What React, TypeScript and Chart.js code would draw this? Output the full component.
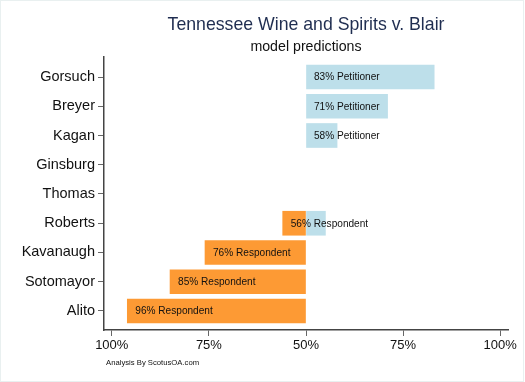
import React, { useEffect, useRef } from "react";
import { Chart, registerables } from "chart.js";

Chart.register(...registerables);

const justices = ["Gorsuch", "Breyer", "Kagan", "Ginsburg", "Thomas", "Roberts", "Kavanaugh", "Sotomayor", "Alito"];
const petitionerPct: (number | null)[] = [83, 71, 58, null, null, 55, null, null, null];
const respondentPct: (number | null)[] = [null, null, null, null, null, 56, 76, 85, 96];
const xTickValues = [-50, -25, 0, 25, 50];

const TITLE = "Tennessee Wine and Spirits v. Blair";
const SUBTITLE = "model predictions";
const NOTE = "Analysis By ScotusOA.com";
const FONT = "'Liberation Sans', Arial, Helvetica, sans-serif";

function rowLabel(i: number): string {
  const p = petitionerPct[i];
  const r = respondentPct[i];
  if (r != null && (p == null || r >= p)) return `${r}% Respondent`;
  if (p != null) return `${p}% Petitioner`;
  return "";
}

export default function App() {
  const ref = useRef<HTMLCanvasElement | null>(null);

  useEffect(() => {
    document.body.style.margin = "0";
    const canvas = ref.current;
    if (!canvas) return;

    const petData = petitionerPct
      .map((v, i) => (v == null ? null : { y: i, x: [0, v - 50] }))
      .filter(Boolean);
    const resData = respondentPct
      .map((v, i) => (v == null ? null : { y: i, x: [-(v - 50), 0] }))
      .filter(Boolean);

    const decor = {
      id: "decor",
      beforeDraw(chart: any) {
        const ctx = chart.ctx;
        ctx.save();
        ctx.fillStyle = "#ffffff";
        ctx.fillRect(0, 0, chart.width, chart.height);
        ctx.strokeStyle = "#e9f0f0";
        ctx.lineWidth = 1;
        ctx.strokeRect(0.5, 0.5, chart.width - 2, chart.height - 1);
        ctx.restore();
      },
      afterDraw(chart: any) {
        const ctx = chart.ctx;
        const { left, right } = chart.chartArea;
        const cx = (left + right) / 2;
        const xs = chart.scales.x;
        const ys = chart.scales.y;
        ctx.save();
        ctx.textAlign = "center";
        ctx.textBaseline = "alphabetic";
        ctx.fillStyle = "#1f2d50";
        ctx.font = `17.7px ${FONT}`;
        ctx.fillText(TITLE, cx, 30);
        ctx.fillStyle = "#111111";
        ctx.font = `14.2px ${FONT}`;
        ctx.fillText(SUBTITLE, cx, 50.5);
        ctx.textAlign = "left";
        ctx.font = `7.7px ${FONT}`;
        ctx.fillText(NOTE, 106, 365);
        ctx.font = `10.1px ${FONT}`;
        ctx.textBaseline = "middle";
        justices.forEach((_, i) => {
          const text = rowLabel(i);
          if (!text) return;
          const r = respondentPct[i];
          const startVal = r != null ? -(r - 50) : 0;
          const x = xs.getPixelForValue(startVal) + 8;
          const y = ys.getPixelForValue(i);
          ctx.fillText(text, x, y + 0.5);
        });
        ctx.restore();
      },
    };

    const chart = new Chart(canvas, {
      type: "bar",
      data: {
        datasets: [
          {
            label: "Petitioner",
            data: petData as any,
            backgroundColor: "#bddfea",
            borderWidth: 0,
            barThickness: 24,
            grouped: false,
          } as any,
          {
            label: "Respondent",
            data: resData as any,
            backgroundColor: "#fd9a34",
            borderWidth: 0,
            barThickness: 24,
            grouped: false,
          } as any,
        ],
      },
      options: {
        indexAxis: "y",
        responsive: false,
        animation: false,
        layout: { padding: { top: 57, right: 17, left: 0, bottom: 0 } },
        plugins: {
          legend: { display: false },
          tooltip: { enabled: false },
          title: { display: false },
        },
        scales: {
          x: {
            type: "linear",
            min: -52,
            max: 52,
            offset: false,
            afterBuildTicks(scale: any) {
              scale.ticks = xTickValues.map((v) => ({ value: v }));
            },
            afterFit(scale: any) {
              scale.height = 52;
            },
            ticks: {
              callback: (v: any) => `${50 + Math.abs(Number(v))}%`,
              font: { family: FONT, size: 13 },
              color: "#111111",
              padding: 2,
              maxRotation: 0,
            },
            grid: {
              display: true,
              offset: false,
              drawOnChartArea: false,
              drawTicks: true,
              tickLength: 6,
              color: "#666666",
              lineWidth: 1,
            },
            border: { display: true, color: "#444444", width: 1.5 },
          },
          y: {
            type: "linear",
            reverse: true,
            offset: false,
            min: -0.684,
            max: 8.65,
            afterBuildTicks(scale: any) {
              scale.ticks = justices.map((_, i) => ({ value: i }));
            },
            afterFit(scale: any) {
              scale.width = 104;
            },
            ticks: {
              callback: (v: any) => justices[Number(v)] ?? "",
              font: { family: FONT, size: 14.5 },
              color: "#111111",
              padding: 3,
              autoSkip: false,
            },
            grid: {
              display: true,
              offset: false,
              drawOnChartArea: false,
              drawTicks: true,
              tickLength: 6,
              color: "#666666",
              lineWidth: 1,
            },
            border: { display: true, color: "#444444", width: 1.5 },
          },
        },
      } as any,
      plugins: [decor],
    });

    return () => chart.destroy();
  }, []);

  return (
    <div style={{ width: 525, height: 382 }}>
      <canvas ref={ref} width={525} height={382} style={{ display: "block" }} />
    </div>
  );
}
